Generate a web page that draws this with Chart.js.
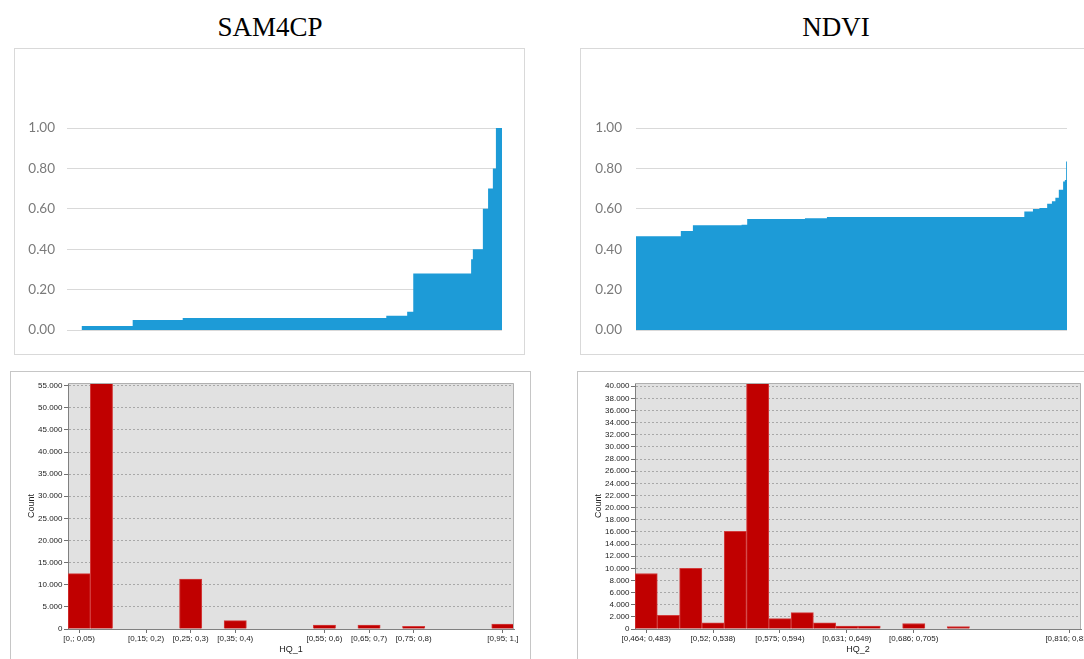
<!DOCTYPE html>
<html>
<head>
<meta charset="utf-8">
<script src="https://cdn.jsdelivr.net/npm/chart.js@4.4.1/dist/chart.umd.min.js"></script>
<style>
  html, body { margin:0; padding:0; background:#ffffff; width:1084px; height:659px; overflow:hidden; position:relative; }
  .title { position:absolute; font-family:"Liberation Serif", serif; font-size:27px; line-height:27px; color:#000; text-align:center; }
  .box { position:absolute; box-sizing:border-box; }
  canvas { position:absolute; }
</style>
</head>
<body>
<div class="title" style="left:0; width:540px; top:14px;">SAM4CP</div>
<div class="title" style="left:566px; width:540px; top:14px;">NDVI</div>

<div class="box" style="left:14px; top:48px; width:511px; height:307px; border:1px solid #d9d9d9;"></div>
<div class="box" style="left:580px; top:48px; width:560px; height:307px; border:1px solid #d9d9d9;"></div>
<div class="box" style="left:10px; top:371px; width:521px; height:300px; border:1px solid #c6c6c6;"></div>
<div class="box" style="left:577px; top:371px; width:560px; height:300px; border:1px solid #c6c6c6;"></div>

<canvas id="c1" width="508" height="304" style="left:15px; top:49px;"></canvas>
<canvas id="c2" width="503" height="304" style="left:581px; top:49px;"></canvas>
<canvas id="c3" width="518" height="287" style="left:11px; top:372px;"></canvas>
<canvas id="c4" width="560" height="287" style="left:578px; top:372px;"></canvas>

<script>
// ---- Top charts: sorted values (step areas) ----
const samRank  = [0, 3.4, 15.1, 26.6, 73.4, 78.2, 79.6, 92.9, 93.3, 95.6, 96.8, 97.9, 98.6, 100];
const samValue = [0, 0.02, 0.05, 0.06, 0.07, 0.09, 0.28, 0.35, 0.40, 0.60, 0.70, 0.80, 1.00, 1.00];

const ndviRank  = [0, 10.4, 13.2, 24.5, 25.8, 39.2, 44.3, 90.1, 92.1, 93.6, 95.4, 96.5, 97.3, 98.1, 99.1, 99.5, 99.8, 100];
const ndviValue = [0.464, 0.49, 0.518, 0.521, 0.549, 0.553, 0.559, 0.587, 0.599, 0.604, 0.625, 0.637, 0.655, 0.694, 0.735, 0.743, 0.834, 0.834];

const topTicks = [0, 0.2, 0.4, 0.6, 0.8, 1.0];

// ---- Bottom charts: histograms ----
const samBins = ['[0,; 0,05)','[0,05; 0,1)','[0,1; 0,15)','[0,15; 0,2)','[0,2; 0,25)','[0,25; 0,3)','[0,3; 0,35)','[0,35; 0,4)','[0,4; 0,45)','[0,45; 0,5)','[0,5; 0,55)','[0,55; 0,6)','[0,6; 0,65)','[0,65; 0,7)','[0,7; 0,75)','[0,75; 0,8)','[0,8; 0,85)','[0,85; 0,9)','[0,9; 0,95)','[0,95; 1,]'];
const samCounts = [12500, 55700, 0, 0, 0, 11300, 0, 1900, 0, 0, 0, 900, 0, 900, 0, 600, 0, 0, 0, 1100];
const samShown = [0, 3, 5, 7, 11, 13, 15, 19];
const samYTicks = [0, 5000, 10000, 15000, 20000, 25000, 30000, 35000, 40000, 45000, 50000, 55000];

const ndviBins = ['[0,464; 0,483)','[0,483; 0,501)','[0,501; 0,52)','[0,52; 0,538)','[0,538; 0,557)','[0,557; 0,575)','[0,575; 0,594)','[0,594; 0,612)','[0,612; 0,631)','[0,631; 0,649)','[0,649; 0,668)','[0,668; 0,686)','[0,686; 0,705)','[0,705; 0,723)','[0,723; 0,742)','[0,742; 0,76)','[0,76; 0,779)','[0,779; 0,797)','[0,797; 0,816)','[0,816; 0,834]'];
const ndviCounts = [9150, 2250, 10000, 1000, 16100, 40600, 1700, 2700, 1000, 500, 500, 0, 900, 0, 400, 0, 0, 0, 0, 0];
const ndviShown = [0, 3, 6, 9, 12, 19];
const ndviYTicks = [0, 2000, 4000, 6000, 8000, 10000, 12000, 14000, 16000, 18000, 20000, 22000, 24000, 26000, 28000, 30000, 32000, 34000, 36000, 38000, 40000];

Chart.defaults.animation = false;
Chart.defaults.plugins.legend.display = false;
Chart.defaults.plugins.tooltip.enabled = false;

function topChart(id, ranks, values, axisW, padRight, labelPad) {
  return new Chart(document.getElementById(id), {
    type: 'line',
    data: { datasets: [{
      data: ranks.map((r, i) => ({ x: r, y: values[i] })),
      stepped: 'before',
      fill: 'origin',
      backgroundColor: '#1d9bd7',
      borderColor: '#1d9bd7',
      borderWidth: 0,
      pointRadius: 0
    }]},
    options: {
      responsive: false,
      layout: { padding: { left: 0, right: padRight, top: 79, bottom: 23 } },
      scales: {
        x: { type: 'linear', min: 0, max: 100, display: false },
        y: {
          min: 0, max: 1,
          afterBuildTicks: s => { s.ticks = topTicks.map(v => ({ value: v })); },
          afterFit: s => { s.width = axisW; },
          ticks: { callback: v => Number(v).toFixed(2), color: '#7a7a7a', padding: labelPad,
                   font: { family: 'Lato', size: 13.5 } },
          grid: { color: '#d9d9d9', drawTicks: false, lineWidth: 1 },
          border: { display: false }
        }
      }
    }
  });
}

topChart('c1', samRank, samValue, 52, 21, 12);
topChart('c2', ndviRank, ndviValue, 55, 17, 14);

const plotFrame = {
  id: 'plotFrame',
  beforeDraw(chart) {
    const { ctx, chartArea: a } = chart;
    ctx.save();
    ctx.fillStyle = '#e1e1e1';
    ctx.fillRect(a.left, a.top, a.right - a.left, a.bottom - a.top);
    ctx.restore();
  },
  afterDraw(chart) {
    const { ctx, chartArea: a } = chart;
    ctx.save();
    ctx.strokeStyle = '#b0b0b0';
    ctx.lineWidth = 1;
    ctx.beginPath();
    ctx.moveTo(a.left, Math.round(a.top) + 0.5);
    ctx.lineTo(Math.round(a.right) - 0.5, Math.round(a.top) + 0.5);
    ctx.lineTo(Math.round(a.right) - 0.5, a.bottom);
    ctx.stroke();
    ctx.restore();
  }
};

const fmtThousands = v => String(Math.round(v)).replace(/\B(?=(\d{3})+(?!\d))/g, '.');

function histChart(id, bins, counts, shown, yMax, yTicks, xTitle, padRight) {
  return new Chart(document.getElementById(id), {
    type: 'bar',
    data: { labels: bins, datasets: [{
      data: counts,
      backgroundColor: '#c00000',
      borderColor: '#d23c3c',
      borderWidth: 1,
      barPercentage: 1,
      categoryPercentage: 1
    }]},
    options: {
      responsive: false,
      layout: { padding: { left: 0, right: padRight, top: 11, bottom: 0 } },
      scales: {
        x: {
          afterFit: s => { s.height = 30; },
          ticks: {
            autoSkip: false, maxRotation: 0, minRotation: 0, padding: 1,
            callback: (v, i) => shown.includes(i) ? bins[i] : '',
            color: '#222', font: { family: 'Liberation Sans', size: 8 }
          },
          grid: {
            offset: false, drawOnChartArea: false, tickLength: 4,
            tickColor: c => shown.includes(c.index) ? '#707070' : 'rgba(0,0,0,0)'
          },
          border: { display: true, color: '#808080', width: 1 },
          title: { display: true, text: xTitle, color: '#222',
                   font: { family: 'Liberation Sans', size: 9 }, padding: { top: 0, bottom: 4 } }
        },
        y: {
          min: 0, max: yMax,
          afterBuildTicks: s => { s.ticks = yTicks.map(v => ({ value: v })); },
          afterFit: s => { s.width = 57; },
          ticks: { autoSkip: false, padding: 1.5, color: '#222',
                   callback: v => fmtThousands(v),
                   font: { family: 'Liberation Sans', size: 8 } },
          grid: { color: '#a8a8a8', lineWidth: 1, tickLength: 4, tickColor: '#707070', tickBorderDash: [] },
          border: { display: true, color: '#808080', width: 1, dash: [2, 2] },
          title: { display: true, text: 'Count', color: '#222',
                   font: { family: 'Liberation Sans', size: 9 }, padding: { top: 15, bottom: 0 } }
        }
      }
    },
    plugins: [plotFrame]
  });
}

histChart('c3', samBins, samCounts, samShown, 55600, samYTicks, 'HQ_1', 15);
histChart('c4', ndviBins, ndviCounts, ndviShown, 40540, ndviYTicks, 'HQ_2', 57);
</script>
</body>
</html>
